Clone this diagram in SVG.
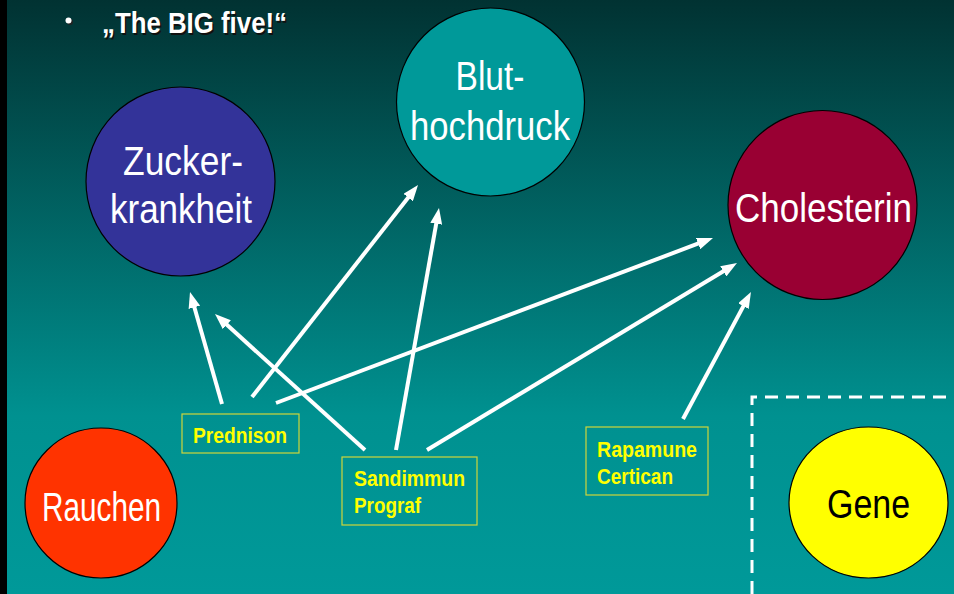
<svg xmlns="http://www.w3.org/2000/svg" width="954" height="594" viewBox="0 0 954 594">
<defs>
<linearGradient id="bg" x1="0" y1="0" x2="0" y2="1">
<stop offset="0" stop-color="#013232"/>
<stop offset="0.7" stop-color="#009190"/>
<stop offset="1" stop-color="#009999"/>
</linearGradient>
<marker id="ah" markerUnits="userSpaceOnUse" viewBox="0 0 16 12" markerWidth="16" markerHeight="12" refX="4" refY="6" orient="auto">
<path d="M0,0 L16,6 L0,12 z" fill="#ffffff"/>
</marker>
</defs>
<style>
.c{stroke:#000;stroke-width:1.2}
.big{font-family:"Liberation Sans",Arial,sans-serif;font-size:40px;fill:#ffffff;text-anchor:middle}
.box{fill:none;stroke:#cfd63a;stroke-width:1.2}
.lab{font-family:"Liberation Sans",Arial,sans-serif;font-size:22.5px;font-weight:bold;fill:#ffff00}
.ar{stroke:#ffffff;stroke-width:4;fill:none;marker-end:url(#ah)}
.t{font-family:"Liberation Sans",Arial,sans-serif;font-size:30px;font-weight:bold}
</style>
<rect x="0" y="0" width="954" height="594" fill="url(#bg)"/>
<rect x="0" y="0" width="7" height="594" fill="#000"/>
<g id="title">
<circle cx="70" cy="22" r="3" fill="#222"/>
<circle cx="68.5" cy="20.5" r="3" fill="#fff"/>
<text class="t" x="103.5" y="34.5" fill="#111" textLength="185" lengthAdjust="spacingAndGlyphs">„The BIG five!“</text>
<text class="t" x="102" y="33" fill="#fff" textLength="185" lengthAdjust="spacingAndGlyphs">„The BIG five!“</text>
</g>
<g id="gene-region">
<path d="M752,594 V397 H954" fill="none" stroke="#fff" stroke-width="3" stroke-dasharray="13,8"/>
</g>
<g id="zucker">
<circle class="c" cx="180.5" cy="181.5" r="94.5" fill="#333399"/>
<text class="big" x="183" y="175" textLength="120" lengthAdjust="spacingAndGlyphs">Zucker-</text>
<text class="big" x="181" y="223" textLength="142" lengthAdjust="spacingAndGlyphs">krankheit</text>
</g>
<g id="blut">
<circle class="c" cx="490.5" cy="102" r="94" fill="#009999"/>
<text class="big" x="490" y="90" textLength="69" lengthAdjust="spacingAndGlyphs">Blut-</text>
<text class="big" x="490" y="140" textLength="160" lengthAdjust="spacingAndGlyphs">hochdruck</text>
</g>
<g id="cholesterin">
<circle class="c" cx="822.5" cy="205" r="94.5" fill="#990033"/>
<text class="big" x="823.5" y="222" textLength="177" lengthAdjust="spacingAndGlyphs">Cholesterin</text>
</g>
<g id="rauchen">
<ellipse class="c" cx="101" cy="503" rx="76" ry="75" fill="#ff3300"/>
<text class="big" x="101.5" y="521" font-size="35" textLength="119" lengthAdjust="spacingAndGlyphs">Rauchen</text>
</g>
<g id="gene">
<ellipse class="c" cx="868.5" cy="502.5" rx="79.5" ry="75.5" fill="#ffff00"/>
<text class="big" x="868.5" y="518" style="fill:#000" textLength="83" lengthAdjust="spacingAndGlyphs">Gene</text>
</g>
<g id="prednison">
<rect class="box" x="182" y="414" width="117" height="39"/>
<text class="lab" x="193" y="443" textLength="94" lengthAdjust="spacingAndGlyphs">Prednison</text>
</g>
<g id="sandimmun">
<rect class="box" x="342" y="457" width="135" height="68"/>
<text class="lab" x="354" y="486" textLength="111" lengthAdjust="spacingAndGlyphs">Sandimmun</text>
<text class="lab" x="354" y="513" textLength="67" lengthAdjust="spacingAndGlyphs">Prograf</text>
</g>
<g id="rapamune">
<rect class="box" x="586" y="427" width="122" height="68"/>
<text class="lab" x="597" y="457" textLength="100" lengthAdjust="spacingAndGlyphs">Rapamune</text>
<text class="lab" x="597" y="484" textLength="76" lengthAdjust="spacingAndGlyphs">Certican</text>
</g>
<g id="connectors">
<line class="ar" x1="222" y1="404" x2="193.3" y2="303.5"/>
<line class="ar" x1="252" y1="397" x2="410.6" y2="194.4"/>
<line class="ar" x1="276" y1="403" x2="701.8" y2="242.2"/>
<line class="ar" x1="365" y1="450" x2="223.9" y2="322.1"/>
<line class="ar" x1="396" y1="450" x2="436.9" y2="219.8"/>
<line class="ar" x1="427" y1="450" x2="726.7" y2="269.2"/>
<line class="ar" x1="683" y1="419" x2="745.3" y2="302.6"/>
</g>
</svg>
